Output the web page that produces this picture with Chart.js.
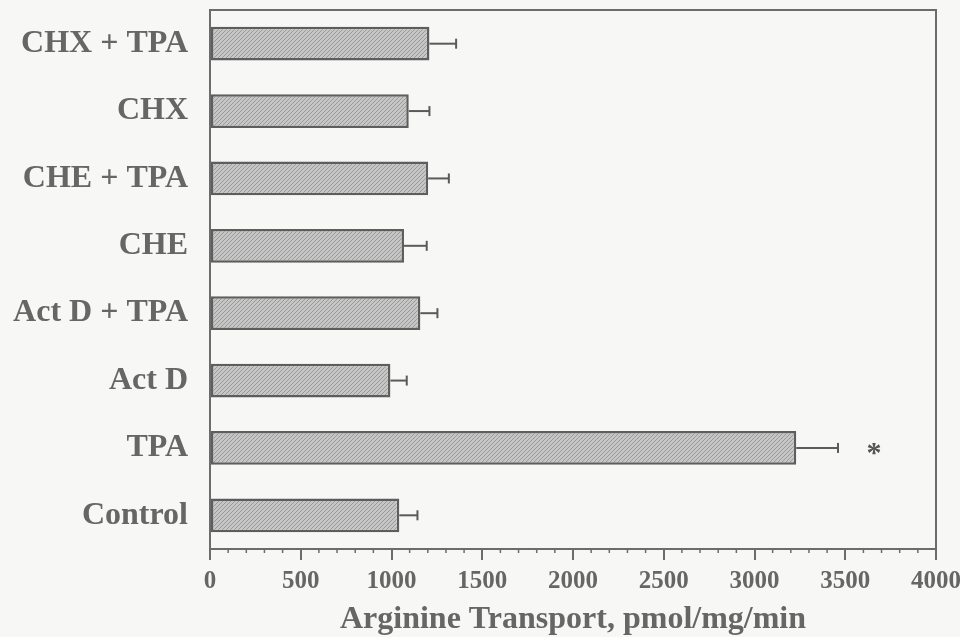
<!DOCTYPE html>
<html>
<head>
<meta charset="utf-8">
<script src="https://cdn.jsdelivr.net/npm/chart.js@4.4.0/dist/chart.umd.min.js"></script>
<style>
html,body{margin:0;padding:0;background:#f7f7f5;}
#wrap{width:960px;height:637px;position:relative;}
</style>
</head>
<body>
<div id="wrap"><canvas id="c" width="960" height="637"></canvas></div>
<script>
// ---- data ----
const categories = ["CHX + TPA","CHX","CHE + TPA","CHE","Act D + TPA","Act D","TPA","Control"];
const transport  = [1209, 1095, 1202, 1069, 1159, 994, 3230, 1043];
const errorsSE   = [147, 114, 114, 125, 94, 90, 230, 100];
const significance = ["", "", "", "", "", "", "*", ""];
const xTicksMajor = [0,500,1000,1500,2000,2500,3000,3500,4000];
const xMinorStep = 100;
const xTitle = "Arginine Transport, pmol/mg/min";

// ---- styles ----
const FONT = '"Liberation Serif","Times New Roman",serif';
const TEXT = '#666666';
const LINE = '#6c6c6c';

function hatch(){
  const c = document.createElement('canvas');
  c.width = 4; c.height = 4;
  const g = c.getContext('2d');
  g.fillStyle = '#c6c6c6'; g.fillRect(0,0,4,4);
  g.strokeStyle = '#9a9a9a'; g.lineWidth = 1;
  g.beginPath(); g.moveTo(0,4); g.lineTo(4,0); g.stroke();
  g.beginPath(); g.moveTo(-1,1); g.lineTo(1,-1); g.stroke();
  g.beginPath(); g.moveTo(3,5); g.lineTo(5,3); g.stroke();
  return g.createPattern(c,'repeat');
}

const extras = {
  id:'extras',
  afterDatasetsDraw(chart){
    const {ctx, chartArea:a, scales:{x,y}} = chart;
    ctx.save();
    // top & right frame
    ctx.strokeStyle = LINE; ctx.lineWidth = 2;
    ctx.beginPath();
    ctx.moveTo(a.left, a.top); ctx.lineTo(a.right, a.top); ctx.lineTo(a.right, a.bottom);
    ctx.stroke();
    // error bars
    ctx.strokeStyle = '#5a5a5a'; ctx.lineWidth = 2;
    transport.forEach((v,i)=>{
      const yc = y.getPixelForValue(i);
      const x0 = x.getPixelForValue(v);
      const x1 = x.getPixelForValue(v + errorsSE[i]);
      ctx.beginPath(); ctx.moveTo(x0, yc); ctx.lineTo(x1, yc); ctx.stroke();
      ctx.beginPath(); ctx.moveTo(x1, yc-5); ctx.lineTo(x1, yc+5); ctx.stroke();
      if (significance[i]) {
        ctx.fillStyle = '#555';
        ctx.font = 'bold 30px ' + FONT;
        ctx.textAlign = 'center'; ctx.textBaseline = 'middle';
        ctx.fillText(significance[i], x1 + 36, yc + 6);
      }
    });
    // minor ticks
    ctx.strokeStyle = LINE; ctx.lineWidth = 1.5;
    for (let v = x.min; v <= x.max; v += xMinorStep) {
      if (v % 500 === 0) continue;
      const px = x.getPixelForValue(v);
      ctx.beginPath(); ctx.moveTo(px, a.bottom); ctx.lineTo(px, a.bottom + 4); ctx.stroke();
    }
    ctx.restore();
  }
};

new Chart(document.getElementById('c'), {
  type: 'bar',
  data: {
    labels: categories,
    datasets: [{
      data: transport,
      backgroundColor: hatch(),
      borderColor: '#5e5e5e',
      borderWidth: 2.5,
      borderSkipped: false,
      barPercentage: 0.5,
      categoryPercentage: 1.0
    }]
  },
  options: {
    indexAxis: 'y',
    responsive: false,
    animation: false,
    devicePixelRatio: 1,
    layout: { padding: { top: 10, right: 24, left: 0, bottom: 0 } },
    plugins: { legend: { display: false }, tooltip: { enabled: false } },
    scales: {
      x: {
        min: 0, max: 4000,
        afterBuildTicks(s){ s.ticks = xTicksMajor.map(v=>({value:v})); },
        afterFit(s){ s.height = 88; s.paddingLeft = 0; s.paddingRight = 0; },
        grid: { drawOnChartArea: false, drawTicks: true, tickLength: 11, color: LINE, lineWidth: 2 },
        border: { display: true, color: LINE, width: 2 },
        ticks: { color: TEXT, font: { family: FONT, size: 25, weight: 'bold' }, padding: 7, maxRotation: 0,
                 callback: (v) => String(v) },
        title: { display: true, text: xTitle, color: TEXT, font: { family: FONT, size: 32, weight: 'bold', lineHeight: 1 }, padding: { top: 0, bottom: 1 } }
      },
      y: {
        afterFit(s){ s.width = 210; s.paddingTop = 0; s.paddingBottom = 0; },
        grid: { display: false, drawTicks: false },
        border: { display: true, color: LINE, width: 2 },
        ticks: { color: TEXT, font: { family: FONT, size: 32, weight: 'bold' }, padding: 22 }
      }
    }
  },
  plugins: [extras]
});
</script>
</body>
</html>
